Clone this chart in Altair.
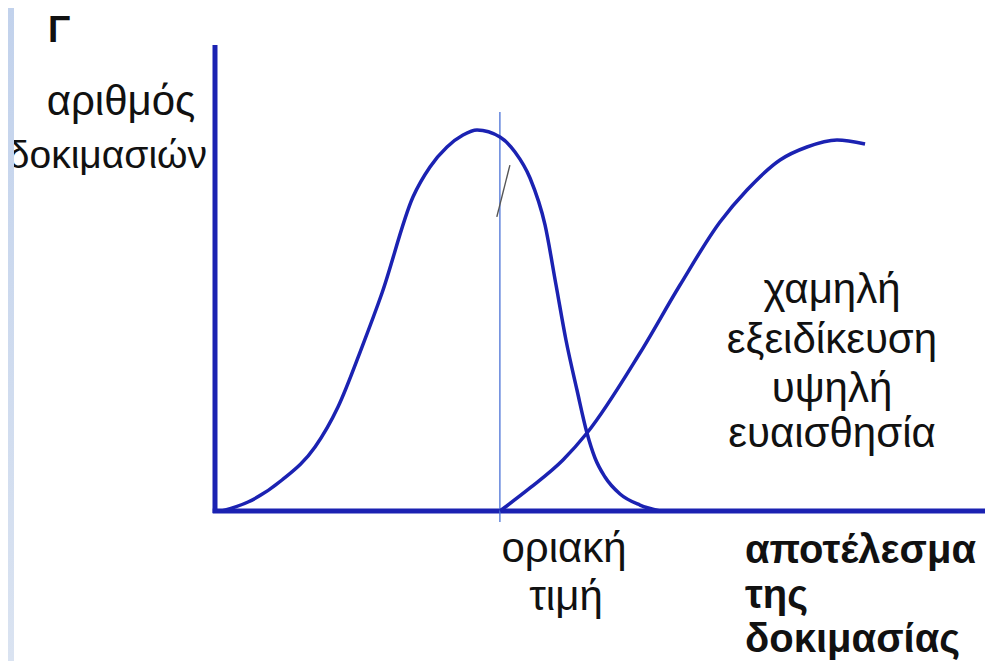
import altair as alt
import pandas as pd

# ---- data (chart units: x 0..100 along result axis, y 0..100 number of tests) ----
bell_x = [0.9, 4.29, 8.70, 12.99, 15.97, 19.09, 21.69, 25.71, 27.92, 30.13, 32.21, 34.03,
          37.01, 38.96, 40.91, 42.86, 44.29, 45.58, 47.01, 48.31, 49.35, 50.65, 52.60, 55.19, 57.79]
bell_y = [0.0, 2.36, 8.14, 16.80, 27.30, 43.04, 57.22, 82.41, 90.29, 95.54, 98.69, 100.0,
          98.16, 94.23, 87.40, 75.07, 59.32, 44.88, 31.76, 20.47, 13.91, 8.92, 4.46, 1.57, 0.0]

sig_x = [37.01, 40.91, 45.19, 48.31, 55.19, 60.39, 65.58, 69.09, 73.38, 76.88, 80.78, 84.42]
sig_y = [0.0, 6.04, 13.39, 20.47, 41.47, 59.32, 75.85, 84.25, 92.13, 95.54, 97.38, 96.33]

cutoff_x = 37.0
cutoff_y = [-2.9, 104.7]

axis_x_end = 100.0
axis_y_end = 122.3

mark_x = [38.3, 36.6]
mark_y = [90.8, 77.2]

title_letter = "Γ"
y_label = ["αριθμός", "δοκιμασιών"]
side_label = ["χαμηλή", "εξειδίκευση", "υψηλή", "ευαισθησία"]
cutoff_label = ["οριακή", "τιμή"]
x_label = ["αποτέλεσμα", "της", "δοκιμασίας"]

# ---- layout ----
W, H = 980, 653
OFF = 8
xs = alt.Scale(domain=[-26.883, 100.39], nice=False, zero=False)
ys = alt.Scale(domain=[-39.37, 132.02], nice=False, zero=False)
BLUE = "#1b22b2"
FONT = "Liberation Sans"

def X(f):
    return alt.X(f, type="quantitative", scale=xs, axis=None)

def Y(f):
    return alt.Y(f, type="quantitative", scale=ys, axis=None)

bell = alt.Chart(pd.DataFrame({"x": bell_x, "y": bell_y})).mark_line(
    color=BLUE, strokeWidth=3.5, interpolate="monotone").encode(x=X("x"), y=Y("y"))
sig = alt.Chart(pd.DataFrame({"x": sig_x, "y": sig_y})).mark_line(
    color=BLUE, strokeWidth=3.5, interpolate="monotone").encode(x=X("x"), y=Y("y"))

axes_df = pd.DataFrame({"x": [-0.3, 0.0], "y": [0.0, -0.5], "x2": [axis_x_end, 0.0], "y2": [0.0, axis_y_end]})
axes = alt.Chart(axes_df).mark_rule(color=BLUE, strokeWidth=5, strokeCap="butt").encode(
    x=X("x"), y=Y("y"), x2="x2:Q", y2="y2:Q")

cut = alt.Chart(pd.DataFrame({"x": [cutoff_x], "y": [cutoff_y[0]], "y2": [cutoff_y[1]]})).mark_rule(
    color="#4a72d6", strokeWidth=1.3).encode(x=X("x"), y=Y("y"), y2="y2:Q")

scratch = alt.Chart(pd.DataFrame({"x": mark_x, "y": mark_y})).mark_line(
    color="#555555", strokeWidth=1.4).encode(x=X("x"), y=Y("y"))

def texts(labels, px, py, align, size, weight="normal"):
    df = pd.DataFrame({"t": labels, "px": px, "py": py})
    return alt.Chart(df).mark_text(align=align, baseline="alphabetic", font=FONT,
                                   fontSize=size, fontWeight=weight, color="#111111").encode(
        x=alt.X("px:Q", scale=None), y=alt.Y("py:Q", scale=None), text="t:N")

t_gamma = texts([title_letter], [48 - OFF], [42 - OFF], "left", 37, "bold")
t_y1 = texts([y_label[0]], [121 - OFF], [115 - OFF], "center", 42)
t_y2 = texts([y_label[1]], [207 - OFF], [168 - OFF], "right", 39)
t_side = texts(side_label, [832 - OFF] * 4, [303 - OFF, 353 - OFF, 402 - OFF, 447 - OFF], "center", 42)
t_cut = texts(cutoff_label, [564 - OFF, 566 - OFF], [562 - OFF, 610 - OFF], "center", 42)
t_x = texts(x_label, [745 - OFF] * 3, [563 - OFF, 608 - OFF, 652 - OFF], "left", 40, "bold")

strip = alt.Chart(pd.DataFrame({"a": [0]})).mark_rect(
    color=alt.LinearGradient(gradient="linear", x1=0, x2=0, y1=0, y2=1,
                             stops=[alt.GradientStop(color="#c2d2ec", offset=0),
                                    alt.GradientStop(color="#dae3f1", offset=1)])).encode(
    x=alt.value(0), x2=alt.value(14 - OFF), y=alt.value(0), y2=alt.value(H))

chart = alt.layer(axes, cut, bell, sig, scratch, t_gamma, t_y1, t_y2, t_side, t_cut, t_x, strip).properties(
    width=W, height=H, autosize=alt.AutoSizeParams(type="none"), padding=0, background="white"
).configure_view(stroke=None)

chart.save("out.html", embed_options={"renderer": "svg", "actions": False})
